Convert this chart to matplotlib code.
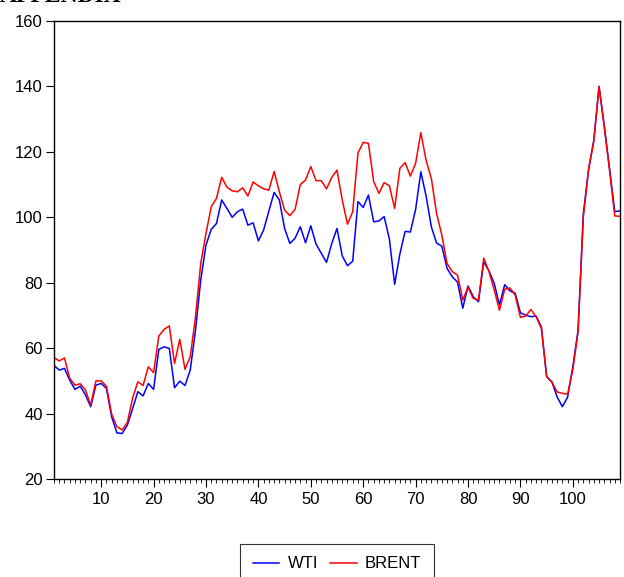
import numpy as np
import matplotlib
matplotlib.use("Agg")
import matplotlib.pyplot as plt
from matplotlib.ticker import MultipleLocator

# --- Data ---
wti = [54.7, 53.3, 53.8, 50.2, 47.4, 48.4, 45.7, 42.1, 48.7, 49.2,
       47.7, 39.0, 34.1, 33.9, 36.5, 41.5, 46.7, 45.4, 49.2, 47.4,
       59.6, 60.4, 59.9, 47.9, 49.9, 48.6, 53.3, 65.5, 80.8, 91.5,
       96.3, 98.1, 105.3, 102.7, 100.0, 101.7, 102.5, 97.6, 98.3, 92.8,
       96.1, 101.9, 107.6, 105.3, 96.6, 92.0, 93.6, 97.1, 92.2, 97.4,
       91.8, 89.0, 86.2, 92.0, 96.6, 88.2, 85.2, 86.6, 104.8, 103.0,
       106.8, 98.6, 98.9, 100.2, 93.3, 79.5, 88.8, 95.7, 95.5, 102.4,
       113.9, 106.5, 97.1, 92.1, 91.2, 84.4, 81.8, 80.2, 72.2, 79.0,
       75.7, 74.2, 86.4, 83.6, 79.8, 73.2, 79.4, 77.5, 76.8, 70.8,
       70.1, 69.6, 69.8, 66.5, 51.3, 49.7, 45.1, 42.1, 45.0, 54.3,
       65.5, 101.0, 114.5, 123.5, 140.0, 128.0, 115.0, 101.7, 102.0]

brent = [57.1, 56.1, 57.0, 50.8, 48.7, 49.1, 47.2, 42.6, 50.0, 50.0,
         48.4, 39.8, 36.0, 35.0, 37.3, 44.7, 49.7, 48.6, 54.3, 52.5,
         63.7, 65.7, 66.8, 55.3, 62.7, 53.5, 57.4, 69.6, 85.9, 95.1,
         103.2, 105.8, 112.2, 109.2, 108.1, 107.8, 109.0, 106.5, 110.8, 109.6,
         108.7, 108.3, 114.0, 107.8, 102.2, 100.5, 102.4, 110.0, 111.4, 115.5,
         111.2, 111.2, 108.7, 112.2, 114.4, 105.3, 97.9, 101.7, 119.6, 122.9,
         122.6, 110.9, 107.3, 110.6, 109.6, 102.7, 115.0, 116.7, 112.6, 116.5,
         125.9, 117.4, 111.9, 101.2, 94.6, 85.9, 83.4, 82.3, 74.7, 78.6,
         75.2, 74.7, 87.5, 83.4, 77.8, 71.6, 78.0, 78.4, 76.2, 69.4,
         69.8, 71.8, 69.6, 66.0, 51.3, 49.6, 46.6, 46.2, 45.9, 53.5,
         65.0, 100.0, 114.7, 123.3, 140.0, 127.5, 114.4, 100.4, 100.3]

obs = np.arange(1, len(wti) + 1)

# --- Figure ---
plt.rcParams['font.family'] = ['Liberation Sans Narrow', 'Liberation Sans', 'DejaVu Sans']

fig = plt.figure(figsize=(6.24, 5.77), dpi=100)
ax = fig.add_axes([54 / 624, 1 - 479 / 577, 566 / 624, 458 / 577])

ax.plot(obs, wti, color='#0000ff', lw=1.1, label='WTI')
ax.plot(obs, brent, color='#ff0000', lw=1.1, label='BRENT')

ax.set_xlim(1, 109)
ax.set_ylim(20, 160)
ax.set_yticks(range(20, 161, 20))
ax.xaxis.set_major_locator(MultipleLocator(10))
ax.xaxis.set_minor_locator(MultipleLocator(1))

ax.tick_params(axis='y', direction='out', length=6, width=0.8, pad=2,
               labelsize=12, right=False)
ax.tick_params(axis='x', which='major', direction='out', length=6, width=0.8,
               pad=3, labelsize=12, top=False)
ax.tick_params(axis='x', which='minor', direction='out', length=3, width=0.6, top=False)

for s in ax.spines.values():
    s.set_linewidth(1.0)

# heading of the page, clipped at the top edge as in the source
fig.text(0.0, 1 - 2.5 / 577, 'APPENDIX', ha='left', va='baseline',
         fontsize=17, fontweight='bold', family='Liberation Serif')

leg = fig.legend(loc='upper center', bbox_to_anchor=(337 / 624, 1 - 544 / 577),
                 ncol=2, fontsize=12, frameon=True, fancybox=False,
                 borderaxespad=0, handlelength=1.6, columnspacing=0.7,
                 handletextpad=0.5, borderpad=0.75)
leg.get_frame().set_edgecolor('black')
leg.get_frame().set_linewidth(0.8)

fig.savefig('out.png', dpi=100)
